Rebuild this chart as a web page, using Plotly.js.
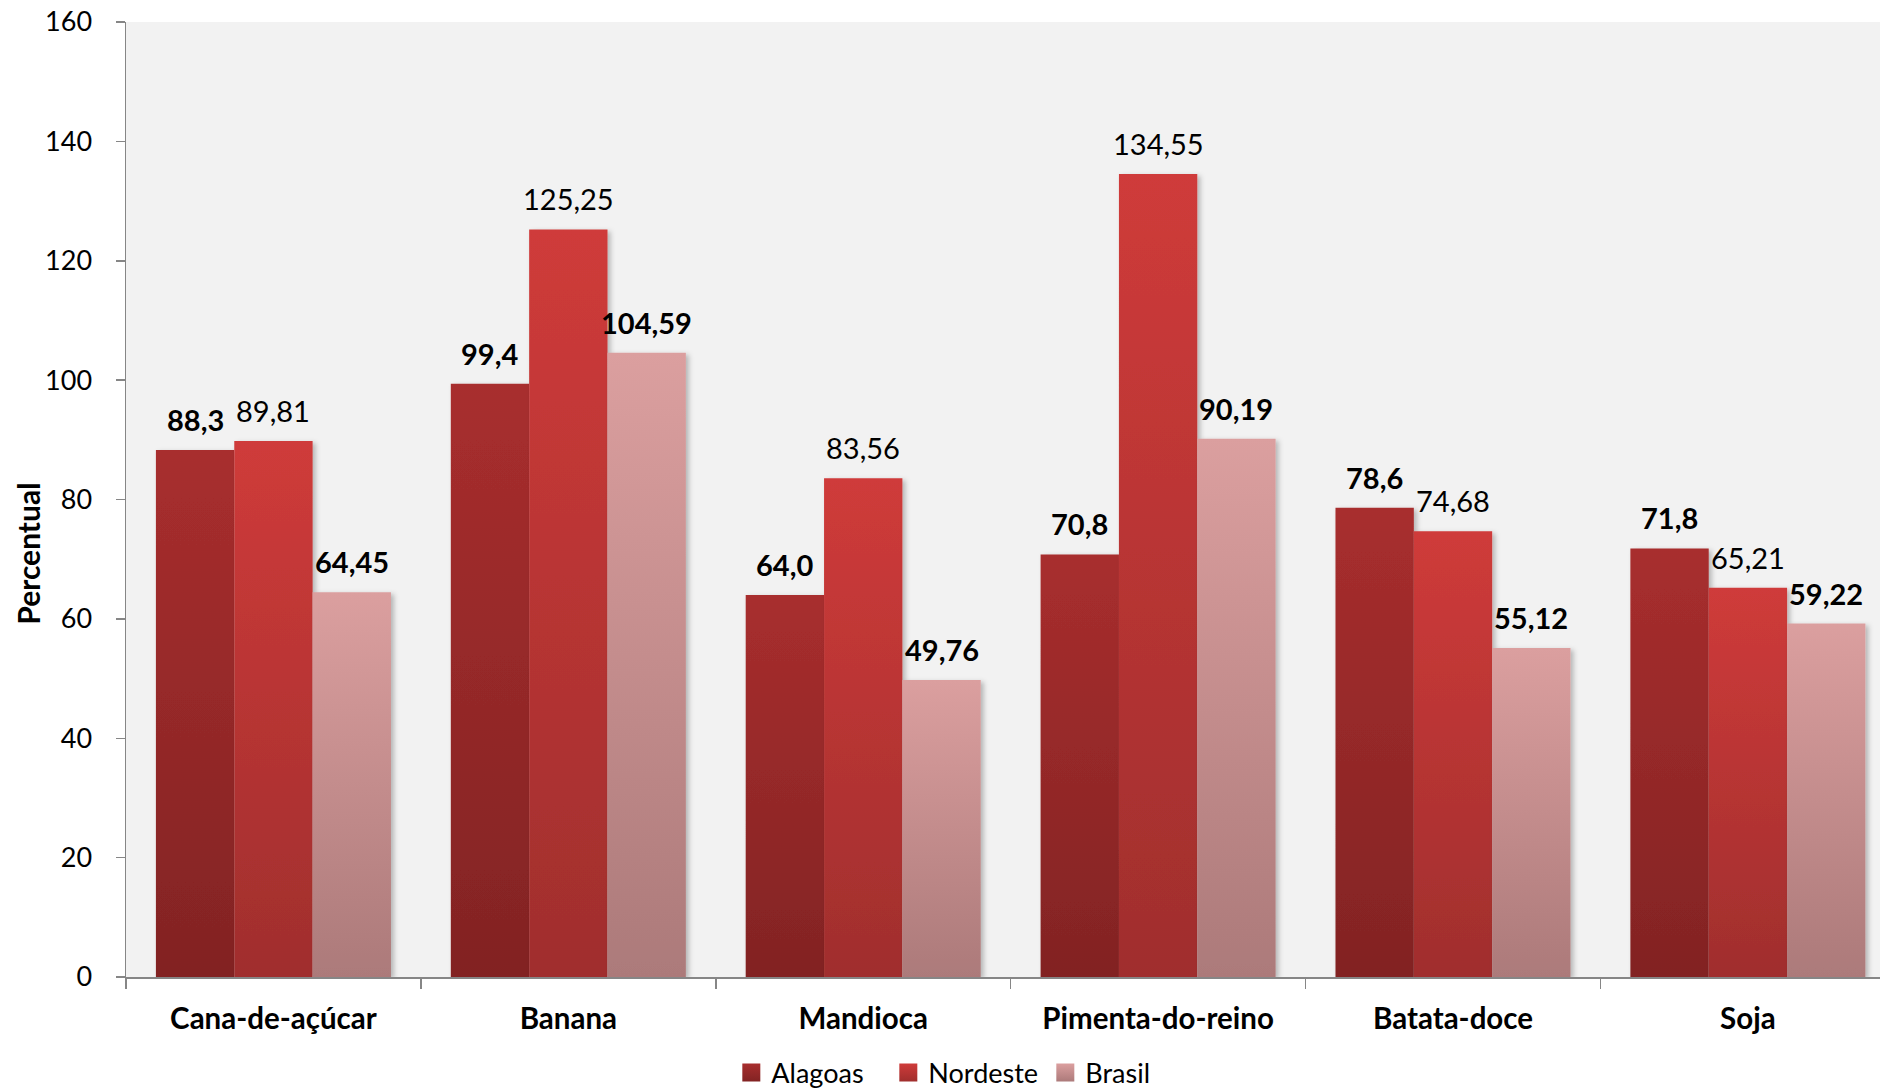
<!DOCTYPE html>
<html>
<head>
<meta charset="utf-8">
<script src="https://cdn.plot.ly/plotly-3.0.1.min.js"></script>
<style>
html,body{margin:0;padding:0;background:#ffffff;overflow:hidden;}
#chart{width:1880px;height:1090px;}
</style>
</head>
<body>
<svg width="0" height="0" style="position:absolute;left:0;top:0">
  <defs>
    <linearGradient id="grad0" x1="0" y1="0" x2="0" y2="1">
      <stop offset="0" stop-color="rgb(168,46,46)"/>
      <stop offset="1" stop-color="rgb(130,35,35)"/>
    </linearGradient>
    <linearGradient id="grad1" x1="0" y1="0" x2="0" y2="1">
      <stop offset="0" stop-color="rgb(207,59,58)"/>
      <stop offset="1" stop-color="rgb(160,46,45)"/>
    </linearGradient>
    <linearGradient id="grad2" x1="0" y1="0" x2="0" y2="1">
      <stop offset="0" stop-color="rgb(219,159,159)"/>
      <stop offset="1" stop-color="rgb(172,122,122)"/>
    </linearGradient>
    <filter id="shadow" x="-20%" y="-20%" width="140%" height="140%">
      <feDropShadow dx="3" dy="2" stdDeviation="2.5" flood-color="#000" flood-opacity="0.25"/>
    </filter>
  </defs>
</svg>
<div id="chart"></div>
<script>
// ---- data ----
const categories = ['Cana-de-açúcar', 'Banana', 'Mandioca', 'Pimenta-do-reino', 'Batata-doce', 'Soja'];
const seriesNames = ['Alagoas', 'Nordeste', 'Brasil'];
const alagoas  = [88.3, 99.4, 64.0, 70.8, 78.6, 71.8];
const nordeste = [89.81, 125.25, 83.56, 134.55, 74.68, 65.21];
const brasil   = [64.45, 104.59, 49.76, 90.19, 55.12, 59.22];
const labelDecimals = [1, 2, 2];
const labelBold = [true, false, true];
const yTickVals = [0, 20, 40, 60, 80, 100, 120, 140, 160];
const yTitle = 'Percentual';

// ---- styling ----
const baseColors = ['rgb(150,40,40)', 'rgb(190,53,52)', 'rgb(200,140,140)'];
const FONT = 'Lato, "Open Sans", sans-serif';
const bargap = 0.203;
const barUnit = (1 - bargap) / 3;
const allSeries = [alagoas, nordeste, brasil];

function fmt(v, d) { return v.toFixed(d).replace('.', ','); }

const traces = allSeries.map((vals, s) => ({
  type: 'bar',
  name: seriesNames[s],
  x: categories.map((c, i) => i),
  y: vals,
  marker: { color: baseColors[s], line: { width: 0 } },
  hoverinfo: 'skip'
}));

const annotations = [];
allSeries.forEach((vals, s) => {
  vals.forEach((v, i) => {
    annotations.push({
      xref: 'x', yref: 'y',
      x: i + (s - 1) * barUnit,
      y: v,
      text: fmt(v, labelDecimals[s]),
      showarrow: false,
      xanchor: 'center', yanchor: 'bottom',
      yshift: 11,
      font: { family: FONT, size: 29, color: '#000', weight: labelBold[s] ? 'bold' : 'normal' }
    });
  });
});
annotations.push({
  xref: 'paper', yref: 'paper',
  x: -0.056, y: 0.443,
  text: yTitle, textangle: -90, showarrow: false,
  xanchor: 'center', yanchor: 'middle',
  font: { family: FONT, size: 30, color: '#000', weight: 'bold' }
});

const layout = {
  width: 1880, height: 1090,
  margin: { l: 126, r: 0, t: 22, b: 113, pad: 0, autoexpand: false },
  paper_bgcolor: '#ffffff',
  plot_bgcolor: '#f2f2f2',
  barmode: 'group',
  bargap: bargap,
  bargroupgap: 0,
  showlegend: true,
  legend: {
    orientation: 'h',
    xref: 'container', yref: 'container',
    x: 0.389, xanchor: 'left',
    y: 0.0156, yanchor: 'middle',
    font: { family: FONT, size: 27, color: '#000' },
    bgcolor: 'rgba(0,0,0,0)',
    entrywidth: 112, entrywidthmode: 'pixels',
    itemclick: false, itemdoubleclick: false,
    traceorder: 'normal'
  },
  xaxis: {
    type: 'linear',
    range: [-0.5, 5.448],
    tickmode: 'array',
    tickvals: categories.map((c, i) => i),
    ticktext: categories,
    showgrid: false, zeroline: false,
    showline: true, linecolor: '#868686', linewidth: 1.5,
    ticks: '',
    tickfont: { family: FONT, size: 29.5, color: '#000', weight: 'bold' },
    ticklabelstandoff: 15,
    automargin: false,
    minor: { tickmode: 'array', tickvals: [-0.5, 0.5, 1.5, 2.5, 3.5, 4.5, 5.5], ticks: 'outside', ticklen: 10, tickwidth: 1.5, tickcolor: '#868686', showgrid: false }
  },
  yaxis: {
    range: [0, 160],
    tickmode: 'array',
    tickvals: yTickVals,
    ticktext: yTickVals.map(String),
    showgrid: false, zeroline: false,
    showline: true, linecolor: '#868686', linewidth: 1.5,
    ticks: 'outside', ticklen: 9, tickwidth: 1.5, tickcolor: '#868686',
    tickfont: { family: FONT, size: 27, color: '#000' },
    ticklabelstandoff: 18,
    automargin: false
  },
  annotations: annotations,
  hovermode: false
};

function applyStyles(gd) {
  gd.querySelectorAll('.barlayer .trace').forEach((t, i) => {
    t.querySelectorAll('path').forEach(p => {
      p.style.fill = 'url(#grad' + i + ')';
      p.setAttribute('filter', 'url(#shadow)');
    });
  });
  gd.querySelectorAll('.legend .traces').forEach((t, i) => {
    const p = t.querySelector('.legendpoints path');
    if (p) {
      p.style.fill = 'url(#grad' + i + ')';
      p.style.stroke = 'none';
      p.setAttribute('d', 'M9,9H-9V-9H9Z');
    }
  });
}

Plotly.newPlot('chart', traces, layout, { staticPlot: true, displayModeBar: false }).then(gd => {
  applyStyles(gd);
  gd.on('plotly_afterplot', () => applyStyles(gd));
});
</script>
</body>
</html>
